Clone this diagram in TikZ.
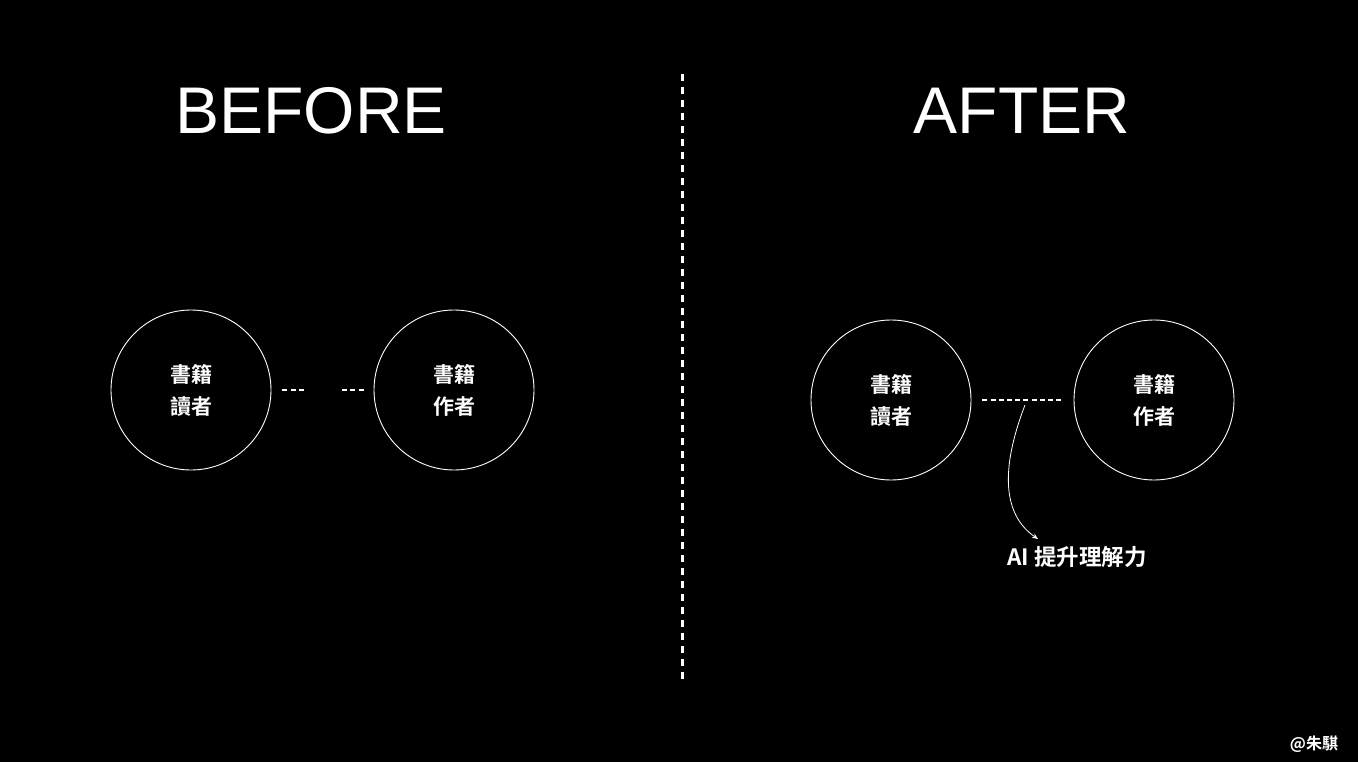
\documentclass[tikz,border=0pt]{standalone}
\usepackage{fontspec}
\setmainfont{Liberation Sans}
\newfontfamily\cjk{Noto Sans CJK TC}[BoldFont={* Bold}]
\usetikzlibrary{arrows.meta,positioning,calc}
\definecolor{vbg}{HTML}{000000}
\definecolor{vink}{HTML}{FFFFFF}
\tikzset{
  party/.style={circle,draw=vink,line width=0.9pt,minimum size=160pt,inner sep=0pt,align=center,font=\cjk\bfseries\fontsize{21}{32}\selectfont,text=vink},
  head/.style={font=\fontsize{66}{66}\selectfont,text=vink},
  lbl/.style={font=\cjk\bfseries\fontsize{22.5}{26}\selectfont,text=vink},
  sign/.style={font=\cjk\bfseries\fontsize{16}{18}\selectfont,text=vink},
  sdash/.style={draw=vink,line width=2pt,dash pattern=on 5pt off 3.5pt},
  ldash/.style={draw=vink,line width=2pt,dash pattern=on 5pt off 3.2pt},
  split/.style={draw=vink,line width=3pt,dash pattern=on 7pt off 6pt},
  carr/.style={-{Stealth[length=6pt,width=5pt]},line width=0.8pt,draw=vink},
}
\begin{document}
\begin{tikzpicture}[x=1pt,y=-1pt]
  \fill[vbg] (0,0) rectangle (1358,762);
  \useasboundingbox (0,0) rectangle (1358,762);
  % divider
  \coordinate (top) at (682,74);
  \coordinate (bot) at (682,684);
  \draw[split] (top) -- (bot);
  % before
  \node[head] (hb) at (311,111) {BEFORE};
  \node[party] (rb) at (191,390) {書籍\\讀者};
  \node[party] (ab) at (454,390) {書籍\\作者};
  \coordinate (g1) at ($(rb.east)+(11,0)$);
  \coordinate (g2) at ($(ab.west)+(-10,0)$);
  \draw[sdash] (g1) -- ++(23,0);
  \draw[sdash] (g2) -- ++(-23,0);
  % after
  \node[head] (ha) at (1022,111) {AFTER};
  \node[party] (ra) at (891,400) {書籍\\讀者};
  \node[party] (aa) at (1154,400) {書籍\\作者};
  \coordinate (h1) at ($(ra.east)+(11,0)$);
  \coordinate (h2) at ($(aa.west)+(-10,0)$);
  \draw[ldash] (h1) -- (h2);
  \coordinate (src) at (1025,405);
  \node[lbl] (ai) at (1077,557) {AI 提升理解力};
  \draw[carr] (src) .. controls (1000,470) and (1003,515) .. (1038,539);
  \node[sign] (me) at (1314,744) {@朱騏};
\end{tikzpicture}
\end{document}
